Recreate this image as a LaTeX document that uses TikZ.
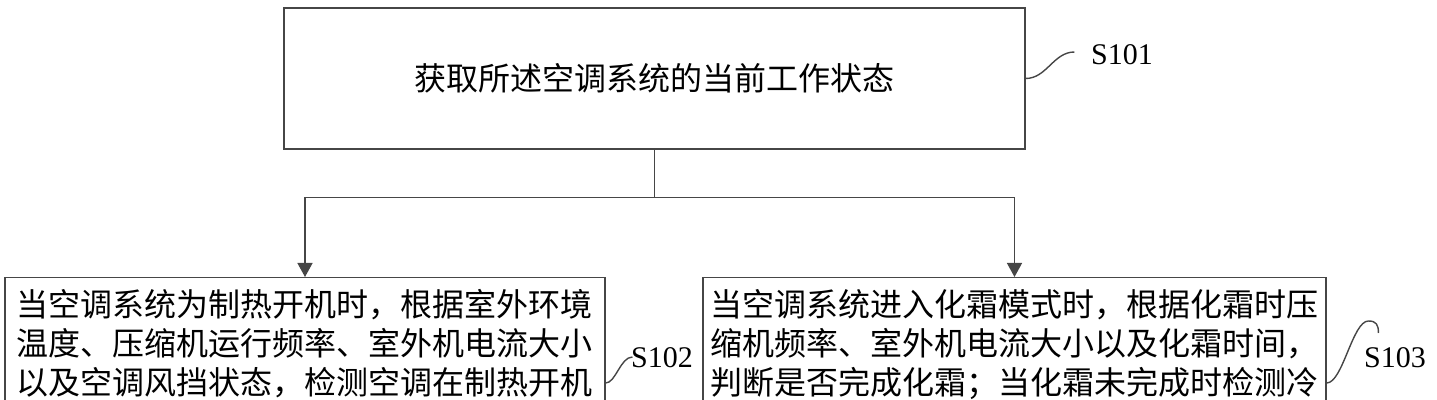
\documentclass[tikz,border=0pt]{standalone}
\usepackage{fontspec}
\setmainfont{Liberation Serif}
\newfontfamily\cjk{Noto Sans CJK SC}
\usetikzlibrary{arrows.meta,positioning,calc}
\definecolor{linegray}{RGB}{70,70,70}

\begin{document}
\begin{tikzpicture}[
  x=0.5pt,y=-0.5pt,
  line width=0.7pt,draw=linegray,
  stepbox/.style={draw=linegray,font=\cjk\fontsize{16}{19.5}\selectfont},
  tag/.style={inner sep=0pt,font=\fontsize{15}{18}\selectfont},
  >={Triangle[width=7.5pt,length=7pt]}]
  \useasboundingbox(0,0) rectangle (1437,400);
  \node[stepbox,minimum width=370.5pt,minimum height=70.5pt](s101) at(654.5,78.5){获取所述空调系统的当前工作状态};
  \node[stepbox,anchor=north,text width=288pt,inner xsep=6pt,inner ysep=6pt,align=left](s102) at(305,277){当空调系统为制热开机时，根据室外环境\\温度、压缩机运行频率、室外机电流大小\\以及空调风挡状态，检测空调在制热开机};
  \node[stepbox,anchor=north,text width=304pt,inner xsep=3.75pt,inner ysep=6pt,align=left](s103) at(1014.5,277){当空调系统进入化霜模式时，根据化霜时压\\缩机频率、室外机电流大小以及化霜时间，\\判断是否完成化霜；当化霜未完成时检测冷};
  \coordinate(fork) at($(s101.south)+(0,48)$);
  \draw(s101.south)--(fork);
  \draw[->](fork)-|(s102.north);
  \draw[->](fork)-|(s103.north);
  % step labels
  \node[tag](l101) at(1122,55){S101};
  \node[tag](l102) at(662,358){S102};
  \node[tag](l103) at(1395,358){S103};
  \draw(s101.east) .. controls +(21,0) and +(-21,0) .. ($(l101.west)+(-16,-3)$);
  \draw($(s102.north east)+(0,106)$) .. controls +(10,0) and +(-12,0) .. ($(l102.west)+(2,-1)$);
  \draw($(s103.north east)+(0,106)$) .. controls +(16,0) and +(-16,0) .. ($(l103.west)+(5,-37)$)
    .. controls +(8,0) and +(0,-8) .. ($(l103.west)+(15,-25)$);
\end{tikzpicture}
\end{document}
